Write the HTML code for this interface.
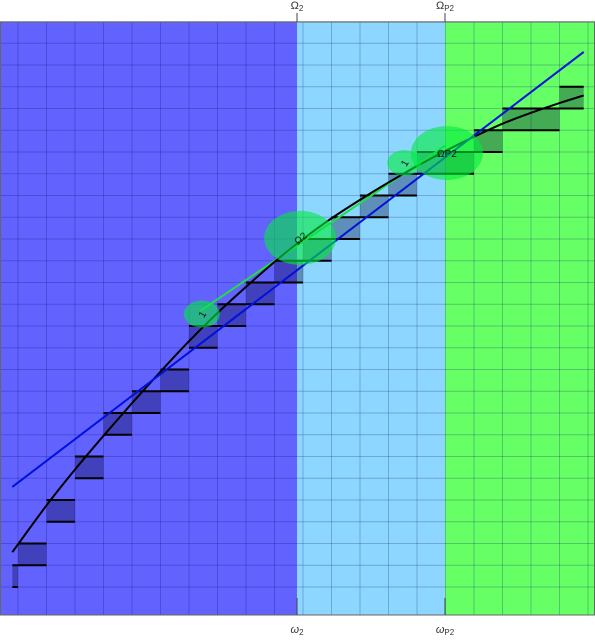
<!DOCTYPE html>
<html><head><meta charset="utf-8"><style>
html,body{margin:0;padding:0;background:#fff;}
svg{display:block;font-family:"Liberation Sans",sans-serif;}
</style></head><body>
<svg id="c" width="595" height="640" viewBox="0 0 595 640">
<rect x="0" y="22" width="297" height="593" fill="#6262ff"/>
<rect x="297" y="22" width="148" height="593" fill="#8cd6ff"/>
<rect x="445" y="22" width="150" height="593" fill="#66ff66"/>
<g id="grid"></g>
<g id="steps"></g>
<g id="lines"></g>
<g id="blobs"></g>
<rect x="0.5" y="22" width="594" height="593" fill="none" stroke="#666" stroke-width="1"/>
<g stroke="#444" stroke-width="1">
<line x1="297" y1="13" x2="297" y2="22"/><line x1="445" y1="13" x2="445" y2="22"/>
<line x1="297" y1="598" x2="297" y2="615"/><line x1="445" y1="598" x2="445" y2="615"/>
</g>
<g font-size="11" fill="#333" text-anchor="middle">
<text x="297" y="9">Ω<tspan font-size="8" dy="2">2</tspan></text>
<text x="445" y="9">Ω<tspan font-size="8" dy="2">P2</tspan></text>
<text x="297" y="633" font-style="italic">ω<tspan font-size="8" dy="2" font-style="normal">2</tspan></text>
<text x="445" y="633" font-style="italic">ω<tspan font-size="8" dy="2" font-style="normal">P2</tspan></text>
</g>
</svg>
<script>
// step cells: x index range and value range
const stepX0=[-0.2,0,1,2,3,4,5,6,7,8,9,10,11,12,13,14,15,16,17,18,19];
const stepX1=[0,1,2,3,4,5,6,7,8,9,10,11,12,13,14,15,16,17,18,19,19.85];
const stepLo=[0,1,3,5,7,8,9,11,12,13,14,15,16,17,18,19,19,20,21,21,22];
const stepHi=[1,2,4,6,8,9,10,12,13,14,15,16,17,18,19,20,20,21,22,22,23];
// curves
const curveX=[-0.2,1,2,3,4,5,6,7,8,9,10,11,12,13,14,15,16,17,18,19,19.85];
const curveY=[1.6,3.75,5.4,6.95,8.45,9.9,11.3,12.6,13.8,14.95,16.0,16.95,17.8,18.6,19.35,20.05,20.7,21.3,21.8,22.25,22.6];
const linearX=[-0.2,19.85];
const linearY=[4.6,24.6];
const greenX=[6.4,15.0];
const greenY=[12.7,20.3];
const blobX=[6.45,9.9,13.55,15.05];
const blobY=[12.55,16.05,19.5,19.95];
const blobR=[18,36,17,36];
const blobLabel=["1","Ω2","1","ΩP2"];
const blobRot=[-60,-40,-60,0];
const sx=i=>18+28.5*i;
const sy=v=>587-21.75*v;
const NS="http://www.w3.org/2000/svg";
function mk(t,a,p){const e=document.createElementNS(NS,t);for(const k in a)e.setAttribute(k,a[k]);p.appendChild(e);return e;}
const grid=document.getElementById('grid');
for(let i=0;i<=20;i++){const l=mk('line',{x1:sx(i),x2:sx(i),y1:22,y2:615,stroke:'rgba(0,0,90,0.22)','stroke-width':1},grid);

}
for(let v=0;v<=26;v++){const l=mk('line',{x1:0,x2:595,y1:sy(v),y2:sy(v),stroke:'rgba(0,0,90,0.22)','stroke-width':1},grid);

}
const steps=document.getElementById('steps');
for(let k=0;k<stepX0.length;k++){
 const x0=sx(stepX0[k]),x1=sx(stepX1[k]),yt=sy(stepHi[k]),yb=sy(stepLo[k]);
 const r=mk('rect',{x:x0,y:yt,width:x1-x0,height:yb-yt,fill:'rgba(0,0,50,0.33)'},steps);
 
 
 const a=mk('line',{x1:x0,x2:x1,y1:yt,y2:yt,stroke:'#000','stroke-width':2},steps);
 
 
 const b=mk('line',{x1:x0,x2:x1,y1:yb,y2:yb,stroke:'#000','stroke-width':2},steps);
 
 
}
const lines=document.getElementById('lines');
const pts=(X,Y)=>X.map((x,i)=>sx(x)+','+sy(Y[i])).join(' ');
function smooth(X,Y){
 const P=X.map((x,i)=>[sx(x),sy(Y[i])]);
 let d='M'+P[0][0]+','+P[0][1];
 for(let i=0;i<P.length-1;i++){
  const p0=P[i-1]||P[i],p1=P[i],p2=P[i+1],p3=P[i+2]||P[i+1];
  const c1=[p1[0]+(p2[0]-p0[0])/6,p1[1]+(p2[1]-p0[1])/6];
  const c2=[p2[0]-(p3[0]-p1[0])/6,p2[1]-(p3[1]-p1[1])/6];
  d+=' C'+c1[0]+','+c1[1]+' '+c2[0]+','+c2[1]+' '+p2[0]+','+p2[1];
 }
 return d;
}
const g=mk('polyline',{points:pts(greenX,greenY),fill:'none',stroke:'#22dd44','stroke-width':2},lines);


const c=mk('path',{d:smooth(curveX,curveY),fill:'none',stroke:'#000','stroke-width':2},lines);


const bl=mk('polyline',{points:pts(linearX,linearY),fill:'none',stroke:'#0010dd','stroke-width':2},lines);


const blobs=document.getElementById('blobs');
for(let k=0;k<blobX.length;k++){
 const cx=sx(blobX[k]),cy=sy(blobY[k]);
 const e=mk('ellipse',{cx:cx,cy:cy,rx:blobR[k],ry:blobR[k]*0.75,fill:'rgba(0,235,60,0.6)'},blobs);
 
 
 const t=mk('text',{x:cx,y:cy+4,'font-size':10,'text-anchor':'middle',fill:'#111',transform:'rotate('+blobRot[k]+' '+cx+' '+cy+')'},blobs);
 t.textContent=blobLabel[k];
 
 
}
</script>
</body></html>
